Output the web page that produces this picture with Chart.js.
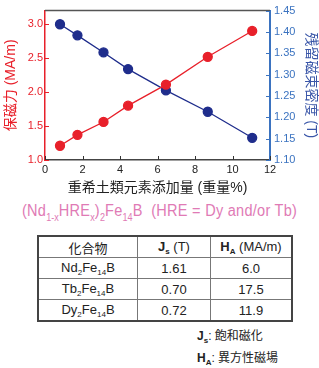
<!DOCTYPE html>
<html>
<head>
<meta charset="utf-8">
<script src="https://cdn.jsdelivr.net/npm/chart.js@4"></script>
<style>
  body { margin: 0; background: #fff; width: 319px; height: 368px; position: relative; overflow: hidden;
         font-family: "Liberation Sans", Arial, "Noto Sans CJK JP", sans-serif; color: #222; }
  #wrap { position: absolute; left: 0; top: 0; width: 319px; height: 200px; }
  .formula { position: absolute; left: 22px; top: 202px; color: #e07ab5; font-size: 16px; white-space: nowrap;
             letter-spacing: 0.3px; transform-origin: left top; }
  .formula sub { font-size: 10px; vertical-align: -5px; letter-spacing: 0; }
  table { position: absolute; left: 37px; top: 235px; width: 256px; border-collapse: collapse;
          border: 2px solid #444; font-size: 13px; }
  td, th { border: 1px solid #777; text-align: center; height: 20px; padding: 0; font-weight: normal; }
  sub.s { font-size: 8px; vertical-align: -3px; }
  .note { position: absolute; left: 197px; font-size: 12px; }
</style>
</head>
<body>
<div id="wrap"><canvas id="chart"></canvas></div>
<div class="formula" id="formula">(Nd<sub>1-x</sub>HRE<sub>x</sub>)<sub>2</sub>Fe<sub>14</sub>B&nbsp; (HRE = Dy and/or Tb)</div>
<table>
  <tr><th style="width:98px">化合物</th><th style="width:72px"><b>J<sub class="s">s</sub></b> (T)</th><th><b>H<sub class="s">A</sub></b> (MA/m)</th></tr>
  <tr><td>Nd<sub class="s">2</sub>Fe<sub class="s">14</sub>B</td><td>1.61</td><td>6.0</td></tr>
  <tr><td>Tb<sub class="s">2</sub>Fe<sub class="s">14</sub>B</td><td>0.70</td><td>17.5</td></tr>
  <tr><td>Dy<sub class="s">2</sub>Fe<sub class="s">14</sub>B</td><td>0.72</td><td>11.9</td></tr>
</table>
<div class="note" style="top:326px"><b>J<sub class="s">s</sub></b>: 飽和磁化</div>
<div class="note" style="top:348px"><b>H<sub class="s">A</sub></b>: 異方性磁場</div>
<script>
// heavy rare earth addition (wt%)
const addition = [0.8, 1.73, 3.12, 4.43, 6.45, 8.68, 11.05];
// coercivity (MA/m), left axis
const coercivity = [1.21, 1.37, 1.56, 1.80, 2.11, 2.52, 2.90];
// remanence (T), right axis
const remanence = [1.418, 1.392, 1.352, 1.313, 1.263, 1.213, 1.152];

const xTicks = [0, 2, 4, 6, 8, 10, 12];
const leftTicks = [1.0, 1.5, 2.0, 2.5, 3.0];
const rightTicks = [1.10, 1.15, 1.20, 1.25, 1.30, 1.35, 1.40, 1.45];

const red = '#e8202a';
const navy = '#1f2d8c';
const lightBlue = '#3b73c0';

const toPoints = (xs, ys) => xs.map((x, i) => ({ x: x, y: ys[i] }));

// squeeze the formula line into the same width as the picture
const formula = document.getElementById('formula');
formula.style.transform = 'scaleX(' + (275 / formula.offsetWidth) + ')';

// inward tick marks and the top frame line
const frame = {
  id: 'frame',
  afterDraw(chart) {
    const ctx = chart.ctx;
    const a = chart.chartArea;
    ctx.save();
    ctx.lineWidth = 1.5;
    ctx.strokeStyle = '#555';
    ctx.beginPath();
    ctx.moveTo(a.left, a.top);
    ctx.lineTo(a.right, a.top);
    ctx.stroke();
    const len = 4;
    const sx = chart.scales.x;
    ctx.strokeStyle = '#333';
    ctx.lineWidth = 1;
    xTicks.forEach((v) => {
      const p = Math.round(sx.getPixelForValue(v)) + 0.5;
      ctx.beginPath(); ctx.moveTo(p, a.bottom); ctx.lineTo(p, a.bottom - len); ctx.stroke();
    });
    const yl = chart.scales.yL;
    ctx.strokeStyle = red;
    leftTicks.forEach((v) => {
      const p = Math.round(yl.getPixelForValue(v)) + 0.5;
      ctx.beginPath(); ctx.moveTo(a.left, p); ctx.lineTo(a.left + len, p); ctx.stroke();
    });
    const yr = chart.scales.yR;
    ctx.strokeStyle = lightBlue;
    rightTicks.forEach((v) => {
      const p = Math.round(yr.getPixelForValue(v)) + 0.5;
      ctx.beginPath(); ctx.moveTo(a.right, p); ctx.lineTo(a.right - len, p); ctx.stroke();
    });
    ctx.restore();
  }
};

const keepTicks = (list) => (scale) => {
  scale.ticks = list.map((v) => ({ value: v }));
};

new Chart(document.getElementById('chart'), {
  type: 'scatter',
  data: {
    datasets: [
      {
        label: '保磁力',
        data: toPoints(addition, coercivity),
        yAxisID: 'yL',
        showLine: true,
        borderColor: red,
        backgroundColor: red,
        borderWidth: 1.3,
        pointRadius: 4.5,
      },
      {
        label: '残留磁束密度',
        data: toPoints(addition, remanence),
        yAxisID: 'yR',
        showLine: true,
        borderColor: navy,
        backgroundColor: navy,
        borderWidth: 1.3,
        pointRadius: 4.5,
      },
    ],
  },
  options: {
    responsive: true,
    maintainAspectRatio: false,
    animation: false,
    layout: { padding: { top: 4, left: 0, right: 0, bottom: 0 } },
    plugins: { legend: { display: false }, tooltip: { enabled: false } },
    scales: {
      x: {
        type: 'linear',
        min: 0,
        max: 12,
        afterBuildTicks: keepTicks(xTicks),
        afterFit(scale) { scale.height = 40; },
        grid: { display: false, drawTicks: false },
        border: { color: '#444', width: 1.5 },
        ticks: { color: '#222', padding: 3, font: { family: 'Liberation Sans', size: 11 } },
        title: {
          display: true,
          text: '重希土類元素添加量 (重量%)',
          color: '#222',
          font: { family: 'Liberation Sans, Noto Sans CJK JP', size: 14 },
          padding: { top: 2, bottom: 3 },
        },
      },
      yL: {
        type: 'linear',
        position: 'left',
        min: 1.0,
        max: 3.2,
        afterBuildTicks: keepTicks(leftTicks),
        afterFit(scale) { scale.width = 45; },
        grid: { display: false, drawTicks: false },
        border: { color: red, width: 1.5 },
        ticks: {
          color: red,
          padding: 2,
          font: { family: 'Liberation Sans', size: 11 },
          callback: (v) => v.toFixed(1),
        },
        title: {
          display: true,
          text: '保磁力 (MA/m)',
          color: red,
          font: { family: 'Liberation Sans, Noto Sans CJK JP', size: 14 },
          padding: { top: 3, bottom: 0 },
        },
      },
      yR: {
        type: 'linear',
        position: 'right',
        min: 1.10,
        max: 1.45,
        afterBuildTicks: keepTicks(rightTicks),
        afterFit(scale) { scale.width = 49; },
        grid: { display: false, drawTicks: false },
        border: { color: lightBlue, width: 2 },
        ticks: {
          color: lightBlue,
          padding: 4,
          font: { family: 'Liberation Sans', size: 11 },
          callback: (v) => v.toFixed(2),
        },
        title: {
          display: true,
          text: '残留磁束密度 (T)',
          color: '#3a56a8',
          font: { family: 'Liberation Sans, Noto Sans CJK JP', size: 14 },
          padding: { top: 0, bottom: 0 },
        },
      },
    },
  },
  plugins: [frame],
});
</script>
</body>
</html>
